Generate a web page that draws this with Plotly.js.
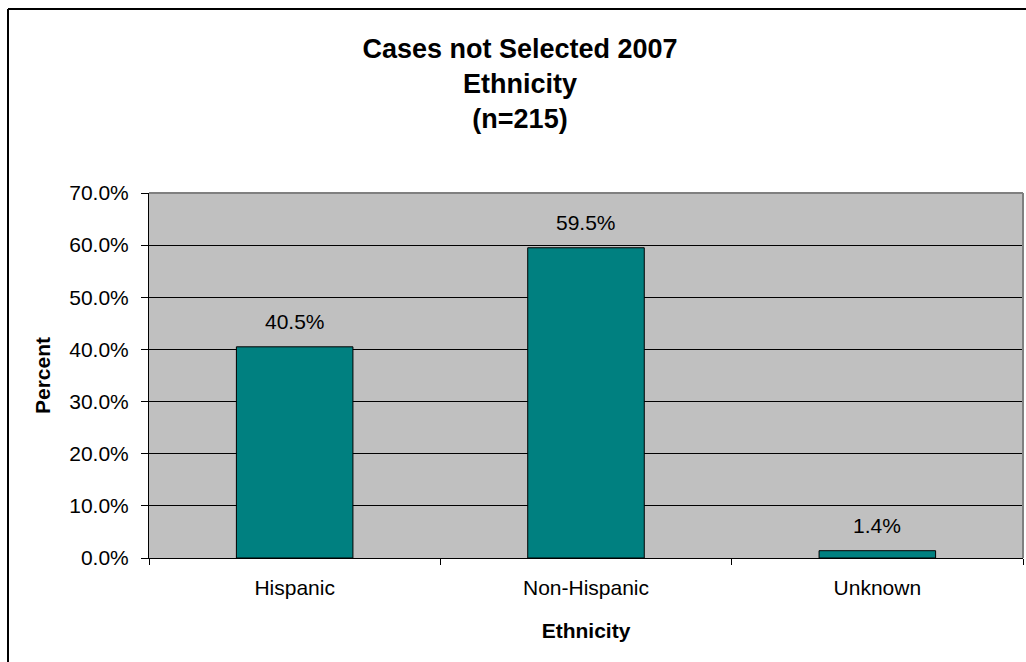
<!DOCTYPE html>
<html>
<head>
<meta charset="utf-8">
<script src="https://cdn.plot.ly/plotly-3.0.1.min.js"></script>
<style>html,body{margin:0;padding:0;background:#fff;}#chart{width:1026px;height:662px;}</style>
</head>
<body>
<div id="chart"></div>
<script>
const categories = ['Hispanic', 'Non-Hispanic', 'Unknown'];
const percentValues = [40.5, 59.5, 1.4];
const yTickValues = [0, 10, 20, 30, 40, 50, 60, 70];
const yTickLabels = ['0.0%', '10.0%', '20.0%', '30.0%', '40.0%', '50.0%', '60.0%', '70.0%'];
const titleLines = ['Cases not Selected 2007', 'Ethnicity', '(n=215)'];

const FONT = 'Liberation Sans, Arial, sans-serif';

const trace = {
  type: 'bar',
  x: categories,
  y: percentValues,
  width: 0.4,
  marker: {color: '#008080', line: {color: '#000000', width: 1}},
  hoverinfo: 'none'
};

const labelAnnotations = categories.map((c, i) => ({
  x: c, y: percentValues[i], xref: 'x', yref: 'y',
  text: percentValues[i].toFixed(1) + '%',
  showarrow: false, yanchor: 'bottom', yshift: 12,
  font: {family: FONT, size: 21, color: '#000'}
}));

const layout = {
  width: 1026, height: 662,
  margin: {l: 149, r: 3, t: 193, b: 104, pad: 0},
  paper_bgcolor: '#ffffff',
  plot_bgcolor: '#c0c0c0',
  showlegend: false,
  bargap: 0.6,
  title: {
    text: titleLines.join('<br>'),
    font: {family: FONT, size: 27, color: '#000', weight: 'bold'},
    xref: 'container', x: 520 / 1026, xanchor: 'center',
    yref: 'container', y: 1 - 58 / 662, yanchor: 'top'
  },
  xaxis: {
    type: 'category',
    tickson: 'boundaries',
    ticks: 'outside', ticklen: 6, tickcolor: '#000', tickwidth: 1,
    ticklabelstandoff: 11,
    showline: true, linecolor: '#000', linewidth: 1,
    showgrid: false, zeroline: false,
    tickfont: {family: FONT, size: 21, color: '#000'},
    title: {text: 'Ethnicity', standoff: 25, font: {family: FONT, size: 21, color: '#000', weight: 'bold'}},
    automargin: false,
    fixedrange: true
  },
  yaxis: {
    range: [0, 70],
    tickmode: 'array', tickvals: yTickValues, ticktext: yTickLabels,
    ticks: 'outside', ticklen: 7, tickcolor: '#000', tickwidth: 1,
    ticklabelstandoff: 8,
    showline: true, linecolor: '#000', linewidth: 1,
    showgrid: true, gridcolor: '#000', gridwidth: 1,
    zeroline: false,
    tickfont: {family: FONT, size: 21, color: '#000'},
    title: {text: 'Percent', standoff: 12, font: {family: FONT, size: 21, color: '#000', weight: 'bold'}},
    automargin: false,
    fixedrange: true
  },
  annotations: labelAnnotations,
  shapes: [
    {type: 'line', xref: 'paper', yref: 'paper', x0: 0, x1: 1, y0: 1, y1: 1, line: {color: '#808080', width: 2}},
    {type: 'line', xref: 'paper', yref: 'paper', x0: 1, x1: 1, y0: 0, y1: 1, line: {color: '#808080', width: 2}},
    {type: 'line', xref: 'paper', yref: 'paper',
     x0: (8 - 149) / 874, x1: 1.3, y0: (558 - 9) / 365, y1: (558 - 9) / 365,
     line: {color: '#000', width: 2}},
    {type: 'line', xref: 'paper', yref: 'paper',
     x0: (8 - 149) / 874, x1: (8 - 149) / 874, y0: -0.6, y1: (558 - 9) / 365,
     line: {color: '#000', width: 2}}
  ]
};

Plotly.newPlot('chart', [trace], layout, {displayModeBar: false, staticPlot: true});
</script>
</body>
</html>
